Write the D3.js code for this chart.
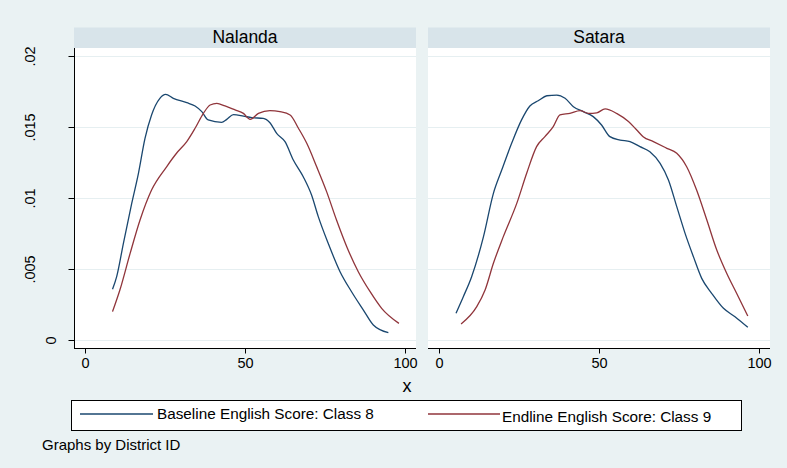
<!DOCTYPE html>
<html>
<head>
<meta charset="utf-8">
<script src="https://cdn.jsdelivr.net/npm/d3@7"></script>
<style>
  html, body { margin: 0; padding: 0; background: #eaf2f3; }
  svg { display: block; font-family: "Liberation Sans", Arial, Helvetica, sans-serif; }
</style>
</head>
<body>
<svg id="chart" width="787" height="468"></svg>
<script>
// Kernel density of English scores, by district
const districts = ["Nalanda", "Satara"];
const seriesLabels = ["Baseline English Score: Class 8", "Endline English Score: Class 9"];
const xTicks = [0, 50, 100];
const yTicks = [0, 0.005, 0.01, 0.015, 0.02];
const yTickLabels = ["0", ".005", ".01", ".015", ".02"];

// [score, density]
const nalandaBaseline = [
  [8.6,0.00357],[9.9,0.00446],[12.0,0.00681],[14.6,0.00962],[16.7,0.01174],[18.75,0.0142],
  [20.8,0.01585],[23.4,0.01702],[25.2,0.0173],[27.6,0.01702],[31.8,0.01671],[34.4,0.01648],
  [36.5,0.01608],[38.5,0.0155],[42.7,0.01533],[44.3,0.01554],[46.4,0.01587],[49.5,0.01577],
  [52.1,0.01566],[55.7,0.01561],[57.8,0.0153],[59.9,0.01455],[62.5,0.01397],[65.1,0.01268],
  [68.2,0.0115],[70.8,0.01021],[72.9,0.00869],[76.0,0.00681],[79.7,0.00481],[83.3,0.0034],
  [87.0,0.00211],[90.1,0.00106],[94.8,0.00052]
];
const nalandaEndline = [
  [8.6,0.0020],[10.9,0.00352],[14.1,0.0061],[17.2,0.00845],[20.8,0.01056],[25.5,0.0122],
  [28.6,0.01315],[31.8,0.01397],[34.4,0.01491],[37.0,0.01596],[39.1,0.01655],[41.2,0.01666],
  [43.75,0.01648],[46.9,0.0162],[49.5,0.01596],[51.6,0.01554],[54.2,0.01596],[57.8,0.01615],
  [60.9,0.01608],[64.1,0.01585],[66.7,0.01491],[69.3,0.01385],[72.4,0.0122],[75.5,0.01045],
  [78.6,0.00845],[81.8,0.00657],[85.4,0.00481],[89.1,0.0034],[92.7,0.00223],[98.1,0.00117]
];
const sataraBaseline = [
  [5.3,0.00188],[7.6,0.00305],[10.2,0.00446],[13.9,0.00728],[17.0,0.01033],[19.6,0.01197],
  [22.7,0.01385],[25.8,0.0155],[28.4,0.01648],[31.0,0.01685],[33.7,0.0172],[36.8,0.01725],
  [39.4,0.01702],[42.0,0.01643],[45.1,0.01608],[48.2,0.01573],[50.8,0.01514],[53.4,0.01432],
  [56.6,0.01408],[59.7,0.01397],[62.8,0.01362],[65.9,0.01326],[69.1,0.01244],[71.7,0.01127],
  [74.3,0.00939],[76.9,0.00751],[79.5,0.00587],[82.1,0.00434],[85.2,0.00329],[88.9,0.00223],
  [92.5,0.00164],[96.5,0.00089]
];
const sataraEndline = [
  [6.9,0.00113],[11.8,0.00235],[14.4,0.00352],[17.0,0.0054],[20.1,0.00728],[24.3,0.00962],
  [27.4,0.01174],[30.5,0.01362],[33.1,0.01432],[35.7,0.01502],[37.8,0.01585],[40.9,0.01596],
  [44.1,0.01615],[46.7,0.01596],[49.3,0.016],[51.9,0.01627],[55.5,0.01596],[59.2,0.01538],
  [61.8,0.01479],[63.8,0.01432],[67.0,0.01397],[71.2,0.0135],[74.3,0.01315],[77.4,0.0122],
  [80.5,0.01056],[83.7,0.00845],[86.8,0.00634],[89.9,0.0047],[93.0,0.00329],[96.5,0.00169]
];

const panelSeries = [
  [nalandaBaseline, nalandaEndline],
  [sataraBaseline, sataraEndline]
];
const seriesColors = ["#1a476f", "#90353b"];

const svg = d3.select("#chart");
const W = 787, H = 468;
svg.append("rect").attr("width", W).attr("height", H).attr("fill", "#eaf2f3");

const panelLeft = [74, 428];
const panelWidth = 342;
const headerTop = 27.5, plotTop = 48, plotBottom = 348;

const y = d3.scaleLinear().domain([0, 0.02]).range([340, 56]);

districts.forEach((name, i) => {
  const x0 = panelLeft[i];
  const x = d3.scaleLinear().domain([0, 100]).range([x0 + 11, x0 + 331]);
  const g = svg.append("g");

  // header strip
  g.append("rect").attr("x", x0).attr("y", headerTop)
    .attr("width", panelWidth).attr("height", plotTop - headerTop)
    .attr("fill", "#d8e4ea");
  g.append("text").attr("x", x0 + panelWidth / 2).attr("y", 42.5)
    .attr("text-anchor", "middle").attr("font-size", 17.5).attr("fill", "#000")
    .text(name);

  // plot region
  g.append("rect").attr("x", x0).attr("y", plotTop)
    .attr("width", panelWidth).attr("height", plotBottom - plotTop)
    .attr("fill", "#fff");

  // grid lines
  g.selectAll("line.grid").data(yTicks).join("line")
    .attr("class", "grid")
    .attr("x1", x0).attr("x2", x0 + panelWidth)
    .attr("y1", d => Math.round(y(d)) + 0.5).attr("y2", d => Math.round(y(d)) + 0.5)
    .attr("stroke", "#e6eff1").attr("stroke-width", 1.2);

  // density curves
  const line = d3.line().x(d => x(d[0])).y(d => y(d[1])).curve(d3.curveMonotoneX);
  panelSeries[i].forEach((pts, k) => {
    g.append("path").datum(pts).attr("d", line)
      .attr("fill", "none").attr("stroke", seriesColors[k])
      .attr("stroke-width", 1.3).attr("stroke-linejoin", "round");
  });

  // x axis
  const xAxis = d3.axisBottom(x).tickValues(xTicks).tickSize(5).tickPadding(4).tickFormat(d3.format("d"));
  const ax = g.append("g").attr("transform", `translate(0,${plotBottom + 0.5})`).call(xAxis);
  ax.select(".domain").attr("d", `M${x0},0H${x0 + panelWidth}`).attr("stroke", "#000");
  ax.selectAll(".tick line").attr("stroke", "#000");
  ax.selectAll(".tick text").attr("font-size", 14.5).attr("fill", "#000")
    .attr("font-family", "Liberation Sans, Arial, sans-serif");

  if (i === 0) {
    // y axis with vertical labels
    const yAxis = d3.axisLeft(y).tickValues(yTicks).tickSize(6)
      .tickFormat((d, j) => yTickLabels[j]);
    const ay = g.append("g").attr("transform", `translate(${x0 + 0.5},0)`).call(yAxis);
    ay.select(".domain").attr("d", `M0,${plotTop}V${plotBottom + 0.5}`).attr("stroke", "#000");
    ay.selectAll(".tick line").attr("stroke", "#000");
    ay.selectAll(".tick text")
      .attr("font-size", 14.5).attr("fill", "#000")
      .attr("font-family", "Liberation Sans, Arial, sans-serif")
      .attr("text-anchor", "middle")
      .attr("x", null).attr("dy", null)
      .attr("transform", function () {
        const lbl = d3.select(this).text();
        const off = lbl === "0" ? 19 : 40;
        return `translate(${-off},0) rotate(-90)`;
      })
      .attr("y", 0);
  }
});

// shared x axis title
svg.append("text").attr("x", 407).attr("y", 392)
  .attr("text-anchor", "middle").attr("font-size", 18).attr("fill", "#000").text("x");

// legend
const legend = svg.append("g");
legend.append("rect").attr("x", 71.5).attr("y", 400.5).attr("width", 670).attr("height", 30)
  .attr("fill", "#fff").attr("stroke", "#000").attr("stroke-width", 1);
const legendItems = [
  { x1: 80, x2: 153, tx: 157, ty: 419, ly: 414 },
  { x1: 428, x2: 500, tx: 502, ty: 421.5, ly: 414 }
];
legendItems.forEach((it, k) => {
  legend.append("line").attr("x1", it.x1).attr("x2", it.x2)
    .attr("y1", it.ly).attr("y2", it.ly)
    .attr("stroke", seriesColors[k]).attr("stroke-width", 1.3);
  legend.append("text").attr("x", it.tx).attr("y", it.ty)
    .attr("font-size", 15.3).attr("fill", "#000").text(seriesLabels[k]);
});

// note
svg.append("text").attr("x", 42).attr("y", 450)
  .attr("font-size", 15).attr("fill", "#000").text("Graphs by District ID");
</script>
</body>
</html>
